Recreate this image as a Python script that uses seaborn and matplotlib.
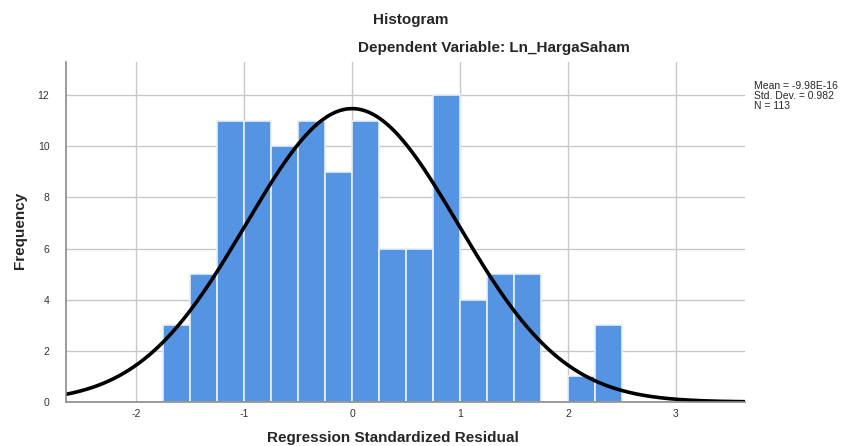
import matplotlib
matplotlib.use('Agg')
import matplotlib.pyplot as plt
import numpy as np
import pandas as pd
import seaborn as sns

# Histogram bins (width 0.25) and their frequencies
bin_start = -1.75
bin_width = 0.25
counts = [3, 5, 11, 11, 10, 11, 9, 11, 6, 6, 12, 4, 5, 5, 0, 1, 3]
mean_val = -9.98e-16
std_val = 0.982
n_total = 113

bin_centers = bin_start + bin_width * (np.arange(len(counts)) + 0.5)
df = pd.DataFrame({'resid': bin_centers, 'freq': counts})

sns.set_style('whitegrid')
plt.rcParams['font.family'] = ['Liberation Sans', 'DejaVu Sans']

fig = plt.figure(figsize=(8.55, 4.46), dpi=100)
ax = fig.add_axes([66 / 855, 1 - 402 / 446, (745 - 66) / 855, (402 - 62) / 446])

sns.histplot(
    data=df, x='resid', weights='freq', binwidth=bin_width,
    binrange=(bin_start, bin_start + bin_width * len(counts)),
    color='#5594E2', alpha=1, edgecolor='#e8eff8', linewidth=1.2, ax=ax,
)

# Normal curve scaled to counts
xs = np.linspace(-2.65, 3.64, 400)
pdf = n_total * bin_width / (std_val * np.sqrt(2 * np.pi)) * np.exp(-0.5 * ((xs - mean_val) / std_val) ** 2)
ax.plot(xs, pdf, color='black', linewidth=2.6, solid_capstyle='round')

ax.set_xlim(-2.65, 3.64)
ax.set_ylim(0, 13.3)
ax.set_xticks([-2, -1, 0, 1, 2, 3])
ax.set_yticks([0, 2, 4, 6, 8, 10, 12])
ax.set_xticklabels(['-2', '-1', '0', '1', '2', '3'])
ax.grid(True, color='#c8c8c8', linewidth=1)
ax.set_axisbelow(True)
for s in ['top', 'right']:
    ax.spines[s].set_visible(False)
for s in ['left', 'bottom']:
    ax.spines[s].set_color('#8a8a8a')
    ax.spines[s].set_linewidth(1.2)
ax.tick_params(axis='both', labelsize=7.5, colors='#333333', length=0)
ax.tick_params(axis='x', pad=5)
ax.tick_params(axis='y', pad=12)
ax.set_xlabel('')
ax.set_ylabel('')

fig.text(411 / 855, 1 - 20 / 446, 'Histogram', ha='center', va='center',
         fontsize=11, fontweight='bold')
fig.text(494 / 855, 1 - 48 / 446, 'Dependent Variable: Ln_HargaSaham', ha='center',
         va='center', fontsize=11, fontweight='bold')
fig.text(393 / 855, 1 - 438 / 446, 'Regression Standardized Residual', ha='center',
         va='center', fontsize=11, fontweight='bold')
fig.text(20 / 855, 1 - 230 / 446, 'Frequency', ha='center', va='center',
         rotation=90, fontsize=11, fontweight='bold')
fig.text(754 / 855, 1 - 96 / 446,
         'Mean = -9.98E-16\nStd. Dev. = 0.982\nN = 113',
         ha='left', va='center', fontsize=7.5, linespacing=1.05)

fig.savefig('out.png', dpi=100)
